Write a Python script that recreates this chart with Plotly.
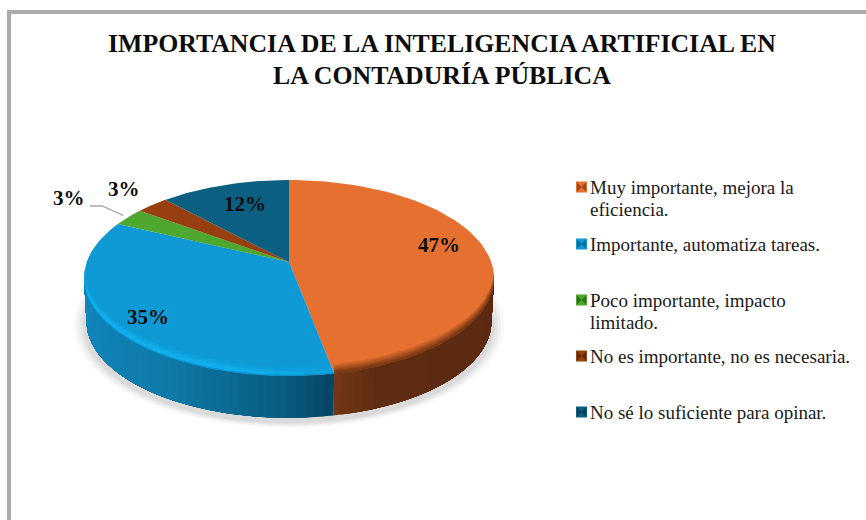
import numpy as np
import plotly.graph_objects as go

# datos
categories = [
    "Muy importante, mejora la<br>eficiencia.",
    "Importante, automatiza tareas.",
    "Poco importante, impacto<br>limitado.",
    "No es importante, no es necesaria.",
    "No sé lo suficiente para opinar.",
]
values = [47, 35, 3, 3, 12]
labels = ["47%", "35%", "3%", "3%", "12%"]
title_lines = ["IMPORTANCIA DE LA INTELIGENCIA ARTIFICIAL EN", "LA CONTADURÍA PÚBLICA"]

colors = ["#E6702F", "#0F9AD5", "#4EA72E", "#983F10", "#0B5F80"]
key_dark = ["#8A4019", "#0A5F85", "#2A6318", "#552407", "#063850"]

# geometria del pastel (el excel lo dibuja en perspectiva)
CX, CY = 289, 278
RX, RY = 205, 98
TILT = 0.163
DEPTH = 43

label_x = [439, 148, 69, 124, 245]
label_y = [245, 317, 198, 189, 204]
key_y = [187, 244, 300, 356, 412]
title_y = [43, 75]
LEGEND_LINE = 22
FONT = "Liberation Serif"


def rim(frac, scale=1.0, dy=0.0):
    # punto del borde para una fraccion del pastel, sentido horario desde arriba
    t = 2 * np.pi * np.asarray(frac, dtype=float)
    u = np.sin(t)
    v = np.cos(t)
    den = 1 + TILT * v
    yy = (v + TILT) / den
    xx = u * np.sqrt(1 - TILT ** 2) / den
    return CX + RX * scale * xx, CY - RY * scale * yy + dy


def poly(fig, x, y, color, opacity=1.0, edge=0.0):
    fig.add_trace(go.Scatter(
        x=list(x), y=list(y), mode="lines", fill="toself", fillcolor=color,
        line=dict(color=color, width=edge), opacity=opacity,
        hoverinfo="skip", showlegend=False,
    ))


def mix(stops, pos):
    xs = [s[0] for s in stops]
    rgb = [np.interp(pos, xs, [s[1][i] for s in stops]) for i in range(3)]
    return "rgb({:.0f},{:.0f},{:.0f})".format(*rgb)


fig = go.Figure()

# limites de cada porcion
total = sum(values)
edges = np.cumsum([0] + values) / total
right_end = np.arccos(-TILT) / (2 * np.pi)
left_end = 1 - right_end

# sombra
for grow, alpha in [(1.05, 0.05), (1.035, 0.07), (1.02, 0.09), (1.005, 0.12)]:
    f = np.linspace(0, 1, 200)
    sx, sy = rim(f, grow, DEPTH + 4)
    poly(fig, sx, sy, "#808080", alpha)

# pared lateral: cada tira se pinta encima de la anterior para que no queden rayas
wall_stops = {
    0: [(0, (112, 54, 22)), (0.15, (94, 44, 18)), (1, (92, 42, 18))],
    1: [(0, (5, 70, 102)), (0.12, (8, 92, 128)), (0.45, (14, 122, 168)), (1, (18, 136, 190))],
}
for i, (a, b) in {0: (edges[1], right_end), 1: (edges[1], left_end)}.items():
    for k in range(40):
        f = np.linspace(a + (b - a) * k / 40, b, 40)
        x1, y1 = rim(f)
        x2, y2 = rim(f[::-1], 0.988, DEPTH)
        poly(fig, np.r_[x1, x2], np.r_[y1, y2], mix(wall_stops[i], k / 39))

# caras superiores
for i in range(len(values)):
    f = np.linspace(edges[i], edges[i + 1], 80)
    x, y = rim(f)
    poly(fig, np.r_[CX, x, CX], np.r_[262, y, 262], colors[i])


def crescent(a, b, h, color, opacity):
    f = np.linspace(a, b, 80)
    x, y = rim(f)
    poly(fig, np.r_[x, x[::-1]], np.r_[y, (y - h)[::-1]], color, opacity)


# biselado del borde
for h, alpha in [(9, 0.2), (7, 0.25), (5, 0.35), (3, 0.45), (1.5, 0.5)]:
    crescent(right_end, edges[1], h, "#6E3212", alpha)
for s in [0.0, 0.02, 0.04, 0.06, 0.08]:
    for h, alpha in [(10, 0.06), (8, 0.09), (6, 0.12), (4, 0.14), (2, 0.14)]:
        crescent(edges[1] + s, left_end, h, "#16B6F5", alpha)
crescent(edges[1], left_end, 1.2, "#0B78A8", 0.5)

# linea guia de la etiqueta del 3% verde
gx, gy = rim((edges[2] + edges[3]) / 2, 1.03)
fig.add_trace(go.Scatter(
    x=[90, 102, float(gx)], y=[206, 206, float(gy)], mode="lines",
    line=dict(color="#A6A6A6", width=1.3), hoverinfo="skip", showlegend=False,
))

# claves de la leyenda
fig.add_trace(go.Scatter(
    x=[581.5] * 5, y=key_y, mode="markers",
    marker=dict(symbol="square", size=11, color=colors, line=dict(width=0)),
    hoverinfo="skip", showlegend=False,
))
fig.add_trace(go.Scatter(
    x=[581.5] * 5, y=key_y, mode="markers",
    marker=dict(symbol="bowtie", size=9, color=key_dark, opacity=0.8, line=dict(width=0)),
    hoverinfo="skip", showlegend=False,
))

# etiquetas de datos
for text, lx, ly in zip(labels, label_x, label_y):
    fig.add_annotation(x=lx, y=ly, text=f"<b>{text}</b>", showarrow=False,
                       font=dict(family=FONT, size=21, color="#0D0D0D"))

# texto de la leyenda, linea por linea porque el interlineado es menor que el de plotly
for text, ly in zip(categories, key_y):
    for n, line in enumerate(text.split("<br>")):
        fig.add_annotation(x=588, y=ly + n * LEGEND_LINE, text=line, showarrow=False,
                           xanchor="left", font=dict(family=FONT, size=19, color="#1A1A1A"))

for line, ly in zip(title_lines, title_y):
    fig.add_annotation(x=442, y=ly, text=f"<b>{line}</b>", showarrow=False,
                       font=dict(family=FONT, size=25.8, color="#0D0D0D"))

# marco gris
fig.add_shape(type="rect", x0=9, y0=12, x1=900, y1=600,
              line=dict(color="#ABABAB", width=4), layer="below")

fig.update_layout(
    width=866, height=520, margin=dict(l=0, r=0, t=0, b=0),
    paper_bgcolor="white", plot_bgcolor="white",
    xaxis=dict(range=[0, 866], visible=False, fixedrange=True),
    yaxis=dict(range=[520, 0], visible=False, fixedrange=True),
    hovermode=False,
)

# la pagina trae un margen de 8px por defecto
fig.write_html("out.html", config={"displayModeBar": False},
               post_script="document.body.style.margin='0';document.body.style.overflow='hidden';")
